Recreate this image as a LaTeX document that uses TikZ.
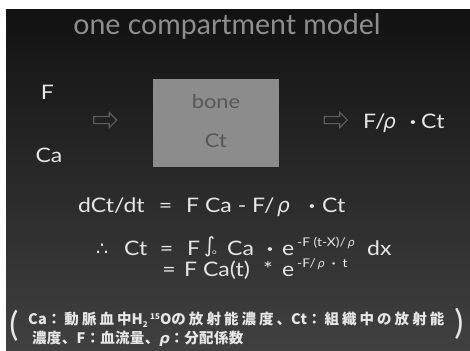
\documentclass[tikz,border=0pt]{standalone}
\usepackage{fontspec}
\setmainfont{Lato}[FakeStretch=1.15]
\newfontfamily\ttlfont{Lato}
\newfontfamily\cjk{Noto Sans CJK JP}[LetterSpace=21]
\newfontfamily\cjkn{Noto Sans CJK JP}[LetterSpace=2]
\newfontfamily\dv{DejaVu Sans}
\usetikzlibrary{shapes.arrows}
\definecolor{bgtop}{HTML}{121212}
\definecolor{bgbot}{HTML}{404040}
\definecolor{txt}{HTML}{E6E6E6}
\definecolor{ttl}{HTML}{8E8E8E}
\definecolor{boxc}{HTML}{8C8C8C}
\definecolor{boxt}{HTML}{575757}
\definecolor{arrc}{HTML}{5E5E5E}
\newcommand{\rh}{{\dv\itshape ρ}}
\newcommand{\mdot}{{\bfseries ·}}
\newcommand{\lat}[1]{{\cjkn\bfseries #1}}
\tikzset{
  lbl/.style={text=txt, inner sep=0pt, font=\fontsize{20}{24}\selectfont},
  eq/.style={text=txt, inner sep=0pt, anchor=base west, font=\fontsize{20}{24}\selectfont},
  supx/.style={text=txt, inner sep=0pt, anchor=base west, font=\fontsize{12}{14}\selectfont},
  note/.style={text=txt, inner sep=0pt, anchor=base west},
  paren/.style={text=txt, inner sep=0pt, font=\ttlfont\fontsize{34}{40}\selectfont},
  blockarrow/.style={single arrow, draw=arrc, line width=1.1pt, inner sep=0pt,
    text width=0pt, text height=6pt, text depth=0pt, minimum height=23pt,
    single arrow head extend=4pt, single arrow head indent=0pt},
  compbox/.style={fill=boxc, minimum width=126pt, minimum height=88pt, inner sep=0pt}
}
\begin{document}
\begin{tikzpicture}[x=1pt,y=-1pt]
\useasboundingbox (0,0) rectangle (470,350);
\fill[white] (0,0) rectangle (470,350);
\shade[top color=bgtop, bottom color=bgbot] (6,10) rectangle (470,350);

% title
\node[text=ttl, inner sep=0pt, anchor=base, font=\ttlfont\fontsize{28.5}{34}\selectfont] (title) at (227,35) {one compartment model};

% compartment
\node[compbox] (box) at (215.5,123) {};
\node[text=boxt, inner sep=0pt, font=\fontsize{19}{24}\selectfont] (bone) at (216,102) {bone};
\node[text=boxt, inner sep=0pt, font=\fontsize{19}{24}\selectfont] (boxct) at (216,141) {Ct};

% inputs and output
\node[lbl] (F) at (47.5,92.5) {F};
\node[lbl] (Ca) at (49,155) {Ca};
\node[blockarrow] (inarrow) at (103.5,120) {};
\node[blockarrow] (outarrow) at (334,120) {};
\node[eq] (o1) at (363,128) {F/};
\node[eq] (o2) at (383,128) {\rh};
\node[eq, anchor=base] (o3) at (413,128) {\mdot};
\node[eq] (o4) at (421,128) {Ct};

% equation line 1
\node[eq] (l1a) at (78,212) {dCt/dt};
\node[eq, anchor=base] (l1e) at (165.5,212) {=};
\node[eq] (l1b) at (186,212) {F Ca - F/};
\node[eq] (l1r) at (277,212) {\rh};
\node[eq, anchor=base] (l1d) at (312,212) {\mdot};
\node[eq] (l1c) at (322,212) {Ct};

% equation line 2
\node[eq] (l2t) at (96,255) {{\dv\fontsize{19}{22}\selectfont ∴}};
\node[eq] (l2a) at (124,255) {Ct};
\node[eq, anchor=base] (l2e) at (166.5,255) {=};
\node[eq] (l2f) at (187,255) {F};
\node[eq] (l2int) at (204,252) {{\dv\fontsize{21}{24}\selectfont ∫}\kern-3pt\raisebox{-2.5pt}{\fontsize{7}{9}\selectfont o}};
\node[eq] (l2ca) at (227,255) {Ca};
\node[eq, anchor=base] (l2d) at (270,255) {\mdot};
\node[eq] (l2e2) at (282,255) {e};
\node[supx] (l2s) at (297,246) {-F (t-X)/\,{\dv\itshape\fontsize{11}{13}\selectfont ρ}};
\node[eq] (l2dx) at (367,255) {dx};

% equation line 3
\node[eq, anchor=base] (l3e) at (169,276) {=};
\node[eq] (l3b) at (184,276) {F Ca(t)};
\node[eq] (l3st) at (263,276) {*};
\node[eq] (l3ee) at (282,276) {e};
\node[supx] (l3s) at (297,267) {-F/\,{\dv\itshape\fontsize{11}{13}\selectfont ρ}\ \ \mdot\ \ t};

% note
\node[paren] (lp) at (14,326) {(};
\node[paren] (rp) at (459,324) {)};
\node[note, font=\cjk\bfseries\fontsize{14.5}{17}\selectfont] (n1) at (28,324) {\lat{Ca}：動脈血中\lat{H}\raisebox{-3pt}{\lat{\fontsize{8}{9}\selectfont 2}}\,\raisebox{5pt}{\lat{\fontsize{8}{9}\selectfont 15}}\lat{O}の放射能濃度、\lat{Ct}：組織中の放射能};
\node[note, font=\cjkn\bfseries\fontsize{14.5}{17}\selectfont] (n2) at (32,343) {濃度、F：血流量、{\dv\itshape ρ}：分配係数};
\end{tikzpicture}
\end{document}
